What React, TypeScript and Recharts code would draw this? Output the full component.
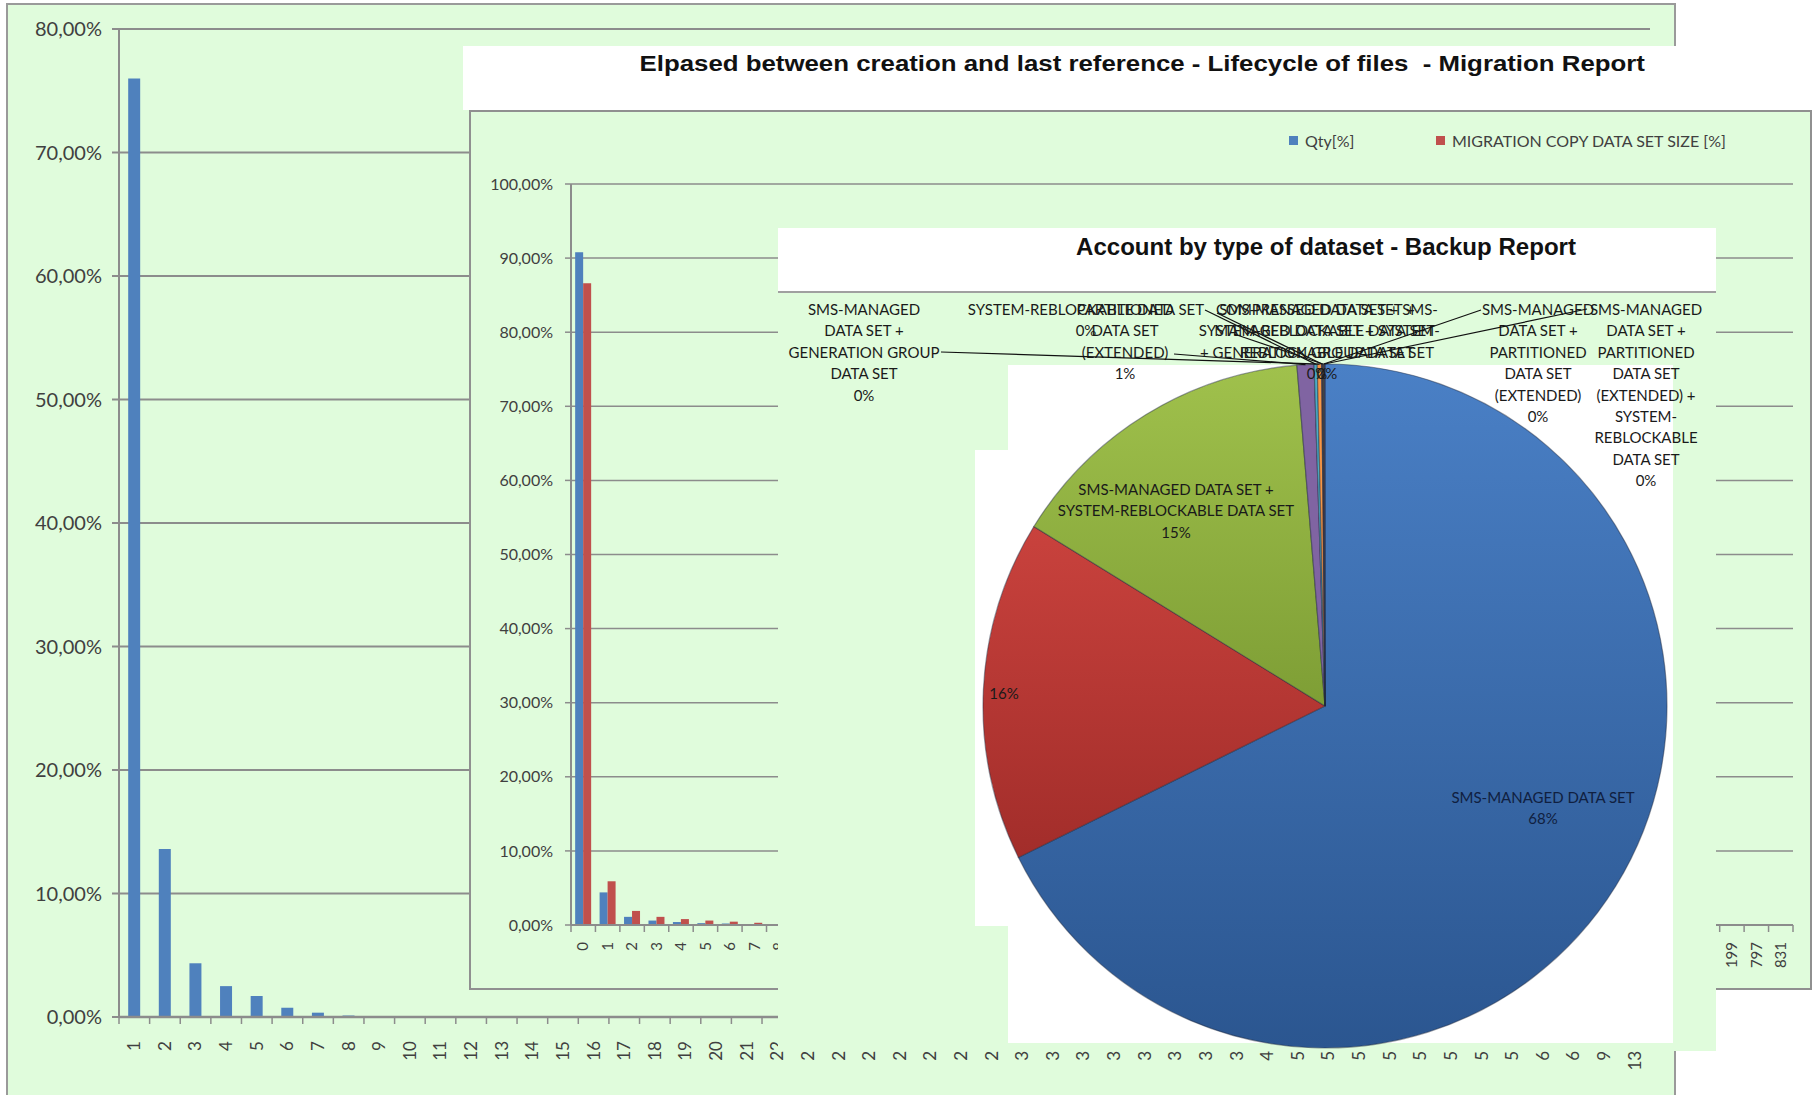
import React from "react";
import {
  BarChart,
  Bar,
  XAxis,
  YAxis,
  CartesianGrid,
  Legend,
  PieChart,
  Pie,
  Cell,
} from "recharts";

// back chart: days elapsed, Qty[%]
const daysA = [
  "1", "2", "3", "4", "5", "6", "7", "8", "9", "10", "11", "12", "13", "14", "15", "16", "17",
  "18", "19", "20", "21", "22", "23", "24", "25", "26", "27", "28", "29", "30", "31", "32", "33",
  "34", "35", "36", "37", "41", "50", "51", "52", "53", "54", "55", "56", "57", "60", "64", "91", "133",
];
const qtyA = [
  76.0, 13.6, 4.35, 2.5, 1.7, 0.75, 0.35, 0.12, 0.06, 0.04, 0.03, 0.03, 0.02, 0.02, 0.02, 0.02, 0.01,
  0.01, 0.01, 0.01, 0.01, 0.01, 0.01, 0.01, 0.01, 0.01, 0.01, 0.01, 0.01, 0.01, 0.01, 0.01, 0.01,
  0.01, 0.01, 0.01, 0.01, 0.01, 0.01, 0.01, 0.01, 0.01, 0.01, 0.01, 0.01, 0.01, 0.01, 0.01, 0.01, 0.01,
];

// middle chart: migration report
const daysB = [
  "0", "1", "2", "3", "4", "5", "6", "7", "8", "9", "10", "11", "12", "13", "14", "15", "16",
  "17", "18", "19", "20", "21", "22", "23", "24", "25", "26", "27", "28", "29", "30", "31", "32",
  "33", "35", "37", "40", "42", "45", "48", "52", "56", "61", "68", "75", "90", "118", "199", "797", "831",
];
const qtyB = [
  90.8, 4.4, 1.1, 0.6, 0.4, 0.25, 0.2, 0.1, 0.05, 0.04, 0.03, 0.03, 0.02, 0.02, 0.02, 0.02, 0.02,
  0.01, 0.01, 0.01, 0.01, 0.01, 0.01, 0.01, 0.01, 0.01, 0.01, 0.01, 0.01, 0.01, 0.01, 0.01, 0.01,
  0.01, 0.01, 0.01, 0.01, 0.01, 0.01, 0.01, 0.01, 0.01, 0.01, 0.01, 0.01, 0.01, 0.01, 0.01, 0.01, 0.01,
];
const sizeB = [
  86.6, 5.9, 1.9, 1.1, 0.8, 0.6, 0.45, 0.3, 0.15, 0.1, 0.08, 0.06, 0.05, 0.04, 0.04, 0.03, 0.03,
  0.02, 0.02, 0.02, 0.02, 0.02, 0.02, 0.02, 0.02, 0.02, 0.02, 0.02, 0.02, 0.02, 0.02, 0.02, 0.02,
  0.02, 0.02, 0.02, 0.02, 0.02, 0.02, 0.02, 0.02, 0.02, 0.02, 0.02, 0.02, 0.02, 0.02, 0.02, 0.02, 0.02,
];

// front chart: backup report by dataset type
const dsTypes = [
  "SMS-MANAGED DATA SET",
  "",
  "SMS-MANAGED DATA SET + SYSTEM-REBLOCKABLE DATA SET",
  "PARTITIONED DATA SET (EXTENDED)",
  "SYSTEM-REBLOCKABLE DATA SET",
  "SMS-MANAGED DATA SET + GENERATION GROUP DATA SET",
  "COMPRESSED DATA SET + SMS-MANAGED DATA SET + SYSTEM-REBLOCKABLE DATA SET",
  "SMS-MANAGED DATA SET + SYSTEM-REBLOCKABLE DATA SET + GENERATION GROUP DATA SET",
  "SMS-MANAGED DATA SET + PARTITIONED DATA SET (EXTENDED)",
  "SMS-MANAGED DATA SET + PARTITIONED DATA SET (EXTENDED) + SYSTEM-REBLOCKABLE DATA SET",
];
const dsShare = [67.7, 16.1, 14.9, 0.8, 0.15, 0.2, 0.04, 0.04, 0.04, 0.04];
// how the label text wraps in the original
const dsLabelLines = [
  ["SMS-MANAGED DATA SET"],
  [],
  ["SMS-MANAGED DATA SET +", "SYSTEM-REBLOCKABLE DATA SET"],
  ["PARTITIONED", "DATA SET", "(EXTENDED)"],
  ["SYSTEM-REBLOCKABLE DATA SET"],
  ["SMS-MANAGED", "DATA SET +", "GENERATION GROUP", "DATA SET"],
  ["COMPRESSED DATA SET + SMS-", "MANAGED DATA SET + SYSTEM-", "REBLOCKABLE DATA SET"],
  ["SMS-MANAGED DATA SET +", "SYSTEM-REBLOCKABLE DATA SET", "+ GENERATION GROUP DATA SET"],
  ["SMS-MANAGED", "DATA SET +", "PARTITIONED", "DATA SET", "(EXTENDED)"],
  ["SMS-MANAGED", "DATA SET +", "PARTITIONED", "DATA SET", "(EXTENDED) +", "SYSTEM-", "REBLOCKABLE", "DATA SET"],
];

const green = "#e0fcdc";
const grid = "#8c8c8c";
const txt = "#404040";
const blue = "#4f81bd";
const red = "#c0504d";
const sliceFill = ["url(#pBlue)", "url(#pRed)", "url(#pGreen)", "#8064a2", "#4bacc6", "#f79646", "#2c4d75", "#772c2a", "#5f7530", "#4d3b62"];

// label placement relative to pie centre (x,y = first line, lx,ly = leader end)
const spots: { x: number; y: number; lx?: number; ly?: number }[] = [
  { x: 218, y: 91 },
  { x: -321, y: -13 },
  { x: -149, y: -217 },
  { x: -200, y: -397, lx: -151, ly: -352 },
  { x: -239, y: -397, lx: -120, ly: -396 },
  { x: -461, y: -397, lx: -384, ly: -354 },
  { x: 2, y: -397, lx: -108, ly: -393 },
  { x: -8, y: -397, lx: -91, ly: -372 },
  { x: 213, y: -397, lx: 156, ly: -396 },
  { x: 321, y: -397, lx: 262, ly: -397 },
];

const pct = (v: number) => v.toFixed(2).replace(".", ",") + "%";

const A = { w: 1666, h: 1090, left: 111, top: 24, right: 24, xh: 70, bottom: 8 };
const aAxisY = A.h - A.bottom - A.xh;
const aBand = (A.w - A.left - A.right) / daysA.length;

const B = { w: 1339, h: 876, left: 100, top: 72, right: 17, xh: 55, bottom: 8 };
const bAxisY = B.h - B.bottom - B.xh;
const bBand = (B.w - B.left - B.right) / daysB.length;

const catTick = (axisY: number, band: number, gap: number, size: number, n: number) => (p: any) => {
  const { x, payload, index } = p;
  const ty = axisY + gap;
  return (
    <g>
      <line x1={x - band / 2} x2={x - band / 2} y1={axisY} y2={axisY + 7} stroke={grid} strokeWidth={1.5} />
      {index === n - 1 && (
        <line x1={x + band / 2} x2={x + band / 2} y1={axisY} y2={axisY + 7} stroke={grid} strokeWidth={1.5} />
      )}
      <text
        x={x}
        y={ty}
        transform={`rotate(-90 ${x} ${ty})`}
        textAnchor="end"
        dy="0.35em"
        fontSize={size}
        fill={txt}
        fontFamily="Lato"
      >
        {payload.value}
      </text>
    </g>
  );
};

const legendLeft: Record<string, number> = { qty: 0, size: 147 };

const legendB = (props: any) => {
  const items = props.payload || [];
  return (
    <div style={{ position: "relative", height: 20 }}>
      {items.map((it: any, i: number) => (
        <div
          key={i}
          style={{
            position: "absolute",
            left: legendLeft[it.dataKey] ?? 0,
            top: 0,
            display: "flex",
            alignItems: "center",
            whiteSpace: "nowrap",
            fontFamily: "Lato",
            fontSize: 16,
            color: txt,
          }}
        >
          <span style={{ width: 9, height: 9, background: it.color, marginRight: 7, display: "inline-block" }} />
          {it.value}
        </div>
      ))}
    </div>
  );
};

const pieLabel = (p: any) => {
  const { cx, cy, midAngle, outerRadius, percent, index } = p;
  const s = spots[index];
  const lines = [...dsLabelLines[index], `${Math.round(percent * 100)}%`];
  const rad = Math.PI / 180;
  const sx = cx + outerRadius * Math.cos(-midAngle * rad);
  const sy = cy + outerRadius * Math.sin(-midAngle * rad);
  return (
    <g key={`lbl-${index}`}>
      {s.lx !== undefined && (
        <polyline points={`${sx},${sy} ${cx + s.lx},${cy + s.ly}`} fill="none" stroke="#111" strokeWidth={1.2} />
      )}
      <text
        textAnchor="middle"
        dominantBaseline="central"
        fontFamily="Lato"
        fontSize={15}
        fill={index === 0 ? "#102040" : "#1a1a1a"}
      >
        {lines.map((l, i) => (
          <tspan key={i} x={cx + s.x} y={cy + s.y + i * 21.4}>
            {l}
          </tspan>
        ))}
      </text>
    </g>
  );
};

const titleFont = "'Liberation Sans', Arial, sans-serif";

export default function App() {
  const rowsA = daysA.map((d, i) => ({ d, qty: qtyA[i] }));
  const rowsB = daysB.map((d, i) => ({ d, qty: qtyB[i], size: sizeB[i] }));
  const slices = dsTypes.map((name, i) => ({ name, value: dsShare[i] }));

  return (
    <div style={{ position: "relative", width: 1816, height: 1095, overflow: "hidden", background: "#fff" }}>
      <style>{"body{margin:0;overflow:hidden}"}</style>

      {/* back chart */}
      <div
        style={{
          position: "absolute",
          left: 6,
          top: 3,
          width: 1670,
          height: 1110,
          background: green,
          border: "2px solid #9a9a9a",
          boxSizing: "border-box",
        }}
      >
        <BarChart
          width={A.w}
          height={A.h}
          data={rowsA}
          margin={{ top: A.top, right: A.right, left: 0, bottom: A.bottom }}
          barCategoryGap="30%"
        >
          <CartesianGrid vertical={false} stroke={grid} strokeWidth={2} />
          <XAxis
            dataKey="d"
            height={A.xh}
            interval={0}
            tickLine={false}
            axisLine={{ stroke: grid, strokeWidth: 2.5 }}
            tick={catTick(aAxisY, aBand, 24, 17, daysA.length)}
          />
          <YAxis
            width={A.left}
            domain={[0, 80]}
            ticks={[0, 10, 20, 30, 40, 50, 60, 70, 80]}
            interval={0}
            tickFormatter={pct}
            tickSize={7}
            tickMargin={10}
            tick={{ fontSize: 20, fill: txt, fontFamily: "Lato" }}
            tickLine={{ stroke: grid, strokeWidth: 2 }}
            axisLine={{ stroke: grid, strokeWidth: 2 }}
          />
          <Bar dataKey="qty" name="Qty[%]" fill={blue} isAnimationActive={false} />
        </BarChart>
      </div>

      {/* middle chart title band */}
      <div
        style={{
          position: "absolute",
          left: 463,
          top: 46,
          width: 1358,
          height: 64,
          background: "#fff",
        }}
      >
        <div
          style={{
            position: "absolute",
            left: 0,
            top: 4,
            width: 1358,
            textAlign: "center",
            fontFamily: titleFont,
            fontWeight: "bold",
            fontSize: 22.5,
            lineHeight: "28px",
            color: "#111",
            whiteSpace: "pre",
          }}
        >
          <span style={{ display: "inline-block", transform: "scaleX(1.147)" }}>
            {"Elpased between creation and last reference - Lifecycle of files  - Migration Report"}
          </span>
        </div>
      </div>

      {/* middle chart */}
      <div
        style={{
          position: "absolute",
          left: 469,
          top: 110,
          width: 1343,
          height: 880,
          background: green,
          border: "2px solid #909090",
          boxSizing: "border-box",
        }}
      >
        <BarChart
          width={B.w}
          height={B.h}
          data={rowsB}
          margin={{ top: B.top, right: B.right, left: 0, bottom: B.bottom }}
          barCategoryGap="17%"
          barGap={0}
        >
          <CartesianGrid vertical={false} stroke={grid} strokeWidth={1.5} />
          <XAxis
            dataKey="d"
            height={B.xh}
            interval={0}
            tickLine={false}
            axisLine={{ stroke: grid, strokeWidth: 2 }}
            tick={catTick(bAxisY, bBand, 17, 15, daysB.length)}
          />
          <YAxis
            width={B.left}
            domain={[0, 100]}
            ticks={[0, 10, 20, 30, 40, 50, 60, 70, 80, 90, 100]}
            interval={0}
            tickFormatter={pct}
            tickSize={6}
            tickMargin={12}
            tick={{ fontSize: 16, fill: txt, fontFamily: "Lato" }}
            tickLine={{ stroke: grid, strokeWidth: 1.5 }}
            axisLine={{ stroke: grid, strokeWidth: 2 }}
          />
          <Legend
            verticalAlign="middle"
            align="center"
            layout="horizontal"
            content={legendB}
            wrapperStyle={{ left: 818, top: 19, width: 520, height: 20 }}
          />
          <Bar dataKey="qty" name="Qty[%]" fill={blue} isAnimationActive={false} />
          <Bar dataKey="size" name="MIGRATION COPY DATA SET SIZE [%]" fill={red} isAnimationActive={false} />
        </BarChart>
      </div>

      {/* front pie chart */}
      <div
        style={{
          position: "absolute",
          left: 778,
          top: 228,
          width: 938,
          height: 823,
          background: green,
          overflow: "hidden",
        }}
      >
        <div
          style={{
            position: "absolute",
            left: 0,
            top: 0,
            width: 938,
            height: 65,
            background: "#fff",
            borderBottom: "2px solid #a0a0a0",
            boxSizing: "border-box",
          }}
        >
          <div
            style={{
              position: "absolute",
              left: 0,
              top: 6,
              width: 1096,
              textAlign: "center",
              fontFamily: titleFont,
              fontWeight: "bold",
              fontSize: 23,
              color: "#111",
              whiteSpace: "pre",
            }}
          >
            <span style={{ display: "inline-block", transform: "scaleX(1.046)" }}>
              Account by type of dataset - Backup Report
            </span>
          </div>
        </div>
        <div style={{ position: "absolute", left: 230, top: 137, width: 665, height: 678, background: "#fff" }} />
        <div style={{ position: "absolute", left: 197, top: 222, width: 34, height: 476, background: "#fff" }} />
        <div style={{ position: "absolute", left: 0, top: 0 }}>
          <PieChart width={938} height={823}>
            <defs>
              <linearGradient id="pBlue" x1="0" y1="0" x2="0" y2="1">
                <stop offset="0" stopColor="#4a80c6" />
                <stop offset="1" stopColor="#2b5690" />
              </linearGradient>
              <linearGradient id="pRed" x1="0" y1="0" x2="0" y2="1">
                <stop offset="0" stopColor="#c9423d" />
                <stop offset="1" stopColor="#a22d2a" />
              </linearGradient>
              <linearGradient id="pGreen" x1="0" y1="0" x2="0" y2="1">
                <stop offset="0" stopColor="#a0c14c" />
                <stop offset="1" stopColor="#7e9e35" />
              </linearGradient>
            </defs>
            <Pie
              data={slices}
              dataKey="value"
              nameKey="name"
              cx={542}
              cy={473}
              outerRadius={342}
              startAngle={90}
              endAngle={-270}
              label={pieLabel}
              labelLine={false}
              isAnimationActive={false}
            >
              {slices.map((s, i) => (
                <Cell key={s.name + i} fill={sliceFill[i]} stroke="rgba(30,40,60,0.45)" strokeWidth={1.2} />
              ))}
            </Pie>
          </PieChart>
        </div>
      </div>
    </div>
  );
}
